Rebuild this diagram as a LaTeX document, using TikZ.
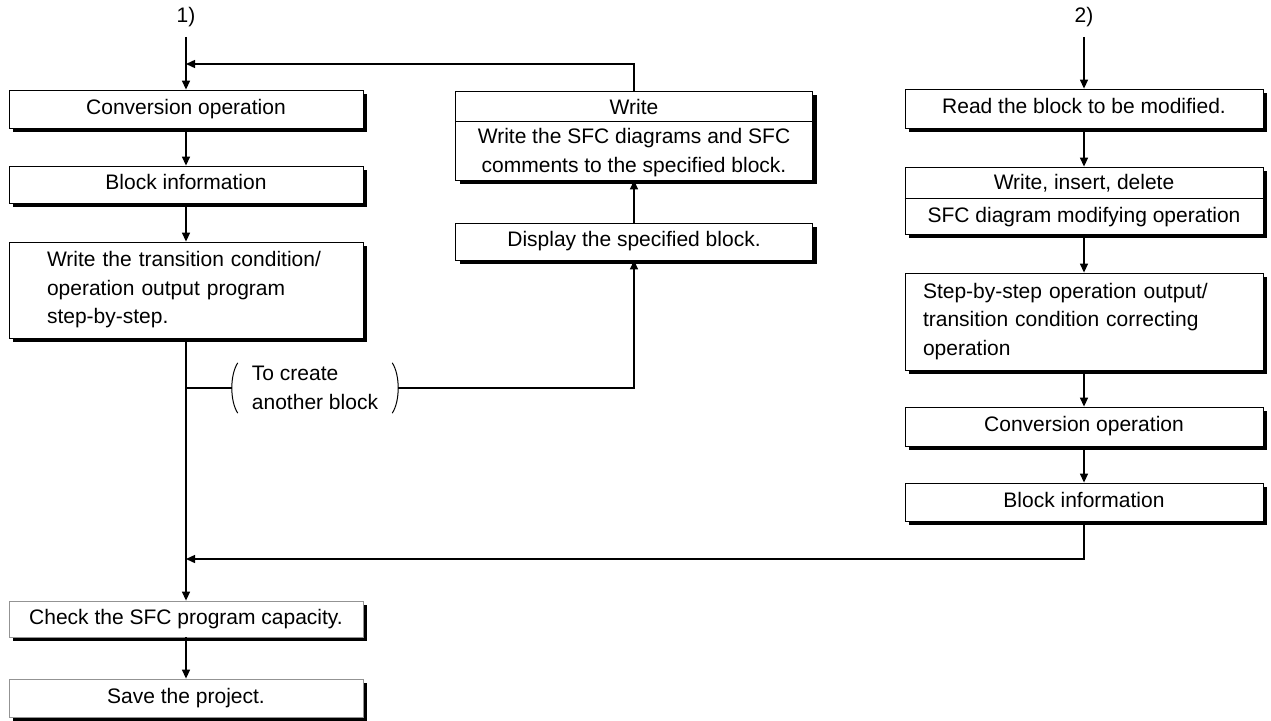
\documentclass[tikz,border=0pt]{standalone}
\usepackage{fontspec}
\setmainfont{Liberation Sans}
\usepackage{tikz}
\usetikzlibrary{arrows.meta,calc,shadows}
\newcommand{\flowfont}{\fontsize{21}{28.5}\selectfont}
\tikzset{
  box/.style={draw=black, line width=0.8pt, fill=white, inner sep=0pt, align=center,
    font=\flowfont, minimum height=38pt,
    drop shadow={shadow xshift=4pt, shadow yshift=-4pt, fill=black, opacity=1}},
  oneline/.style={text height=15pt, text depth=4.5pt},
  lbox/.style={box, minimum width=354pt},
  mbox/.style={box, minimum width=357pt},
  rbox/.style={box, minimum width=358pt},
  greybox/.style={draw=gray!85},
  boxtext/.style={font=\flowfont, inner sep=0pt, align=center},
  numlbl/.style={font=\flowfont, inner xsep=2pt, inner ysep=10pt},
  divider/.style={draw=black, line width=0.8pt},
  conn/.style={draw=black, line width=1.4pt},
  flow/.style={conn, -{Triangle[length=9pt, width=8pt]}},
  paren/.style={draw=black, line width=1pt}
}
\begin{document}
\begin{tikzpicture}[x=1pt, y=-1pt]
  \useasboundingbox (0,0) rectangle (1271,720);

  % Column 1)
  \node[numlbl] (n1) at (186,17) {1)};
  \node[lbox, oneline] (lconv) at (186,109) {Conversion operation};
  \node[lbox, oneline, minimum height=37pt] (lblk) at (186,184.5) {Block information};
  \node[lbox, minimum height=96pt, text width=278pt, align=left] (lwrt) at (186,290)
    {Write the transition condition/\\operation output program\\step-by-step.};
  \node[lbox, oneline, greybox, minimum height=36pt] (lchk) at (186,619) {Check the SFC program capacity.};
  \node[lbox, oneline, greybox] (lsave) at (186,698) {Save the project.};

  % Middle: another block
  \node[mbox, minimum height=89pt] (wr) at (634,135.5) {};
  \node[boxtext] (wrhd) at (634,107) {Write};
  \node[boxtext] (wrtx) at (634,152.5) {Write the SFC diagrams and SFC\\comments to the specified block.};
  \draw[divider] ($(wr.north west)+(0,31)$) -- ($(wr.north east)+(0,31)$);
  \node[mbox, oneline, minimum height=37pt] (dsp) at (634,241.5) {Display the specified block.};

  \node[boxtext, align=left, minimum width=166pt, minimum height=50pt] (crt) at (315,388)
    {To create\\another block};
  \draw[paren] ($(crt.north west)+(6,0)$) .. controls ($(crt.north west)+(-2,12)$)
    and ($(crt.south west)+(-2,-12)$) .. ($(crt.south west)+(6,0)$);
  \draw[paren] ($(crt.north east)+(-6,0)$) .. controls ($(crt.north east)+(2,12)$)
    and ($(crt.south east)+(2,-12)$) .. ($(crt.south east)+(-6,0)$);

  % Column 2)
  \node[numlbl] (n2) at (1084,17) {2)};
  \node[rbox, oneline, minimum height=39pt] (rread) at (1084,108.5) {Read the block to be modified.};
  \node[rbox, minimum height=67pt] (rwid) at (1084,200.5) {};
  \node[boxtext] (rwidhd) at (1084,183) {Write, insert, delete};
  \node[boxtext] (rwidtx) at (1084,217) {SFC diagram modifying operation};
  \draw[divider] ($(rwid.north west)+(0,32)$) -- ($(rwid.north east)+(0,32)$);
  \node[rbox, minimum height=97pt, text width=322pt, align=left] (rstep) at (1084,321.5)
    {Step-by-step operation output/\\transition condition correcting\\operation};
  \node[rbox, oneline, minimum height=39pt] (rconv) at (1084,426.5) {Conversion operation};
  \node[rbox, oneline] (rblk) at (1084,502) {Block information};

  % Connectors
  \coordinate (jtop) at (186,64);
  \coordinate (jmid) at (186,388);
  \coordinate (jlow) at (186,559);
  \draw[flow] (n1) -- (lconv);
  \draw[flow] (lconv) -- (lblk);
  \draw[flow] (lblk) -- (lwrt);
  \draw[flow] (lwrt) -- (lchk);
  \draw[flow] (lchk) -- (lsave);
  \draw[conn] (jmid) -- (crt.west);
  \draw[flow] (crt.east) -| (dsp.south);
  \draw[flow] (dsp) -- (wr);
  \draw[flow] (wr.north) |- (jtop);
  \draw[flow] (n2) -- (rread);
  \draw[flow] (rread) -- (rwid);
  \draw[flow] (rwid) -- (rstep);
  \draw[flow] (rstep) -- (rconv);
  \draw[flow] (rconv) -- (rblk);
  \draw[flow] (rblk.south) |- (jlow);
\end{tikzpicture}
\end{document}
